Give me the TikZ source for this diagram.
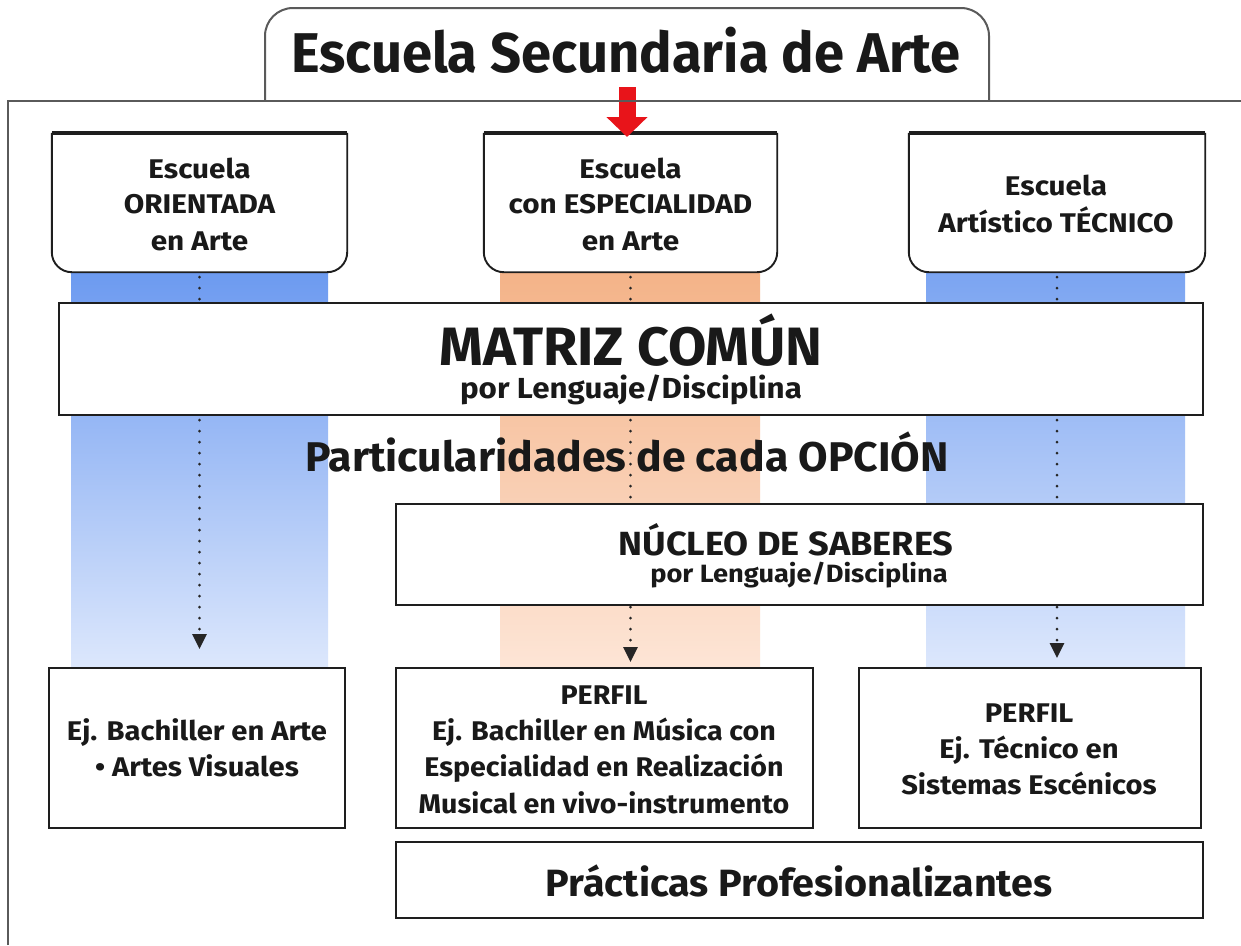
\documentclass[tikz,border=0pt]{standalone}
\usepackage{fontspec}
\setmainfont{Fira Sans}
\usetikzlibrary{arrows.meta}
\newcommand\setfs[2]{\fontsize{#1}{#1}\selectfont\bfseries\addfontfeature{FakeStretch=#2}}
\definecolor{colblue}{HTML}{6C9AF0}
\definecolor{colbluel}{HTML}{DCE7FC}
\definecolor{colorange}{HTML}{F4B388}
\definecolor{colorangel}{HTML}{FDE5D6}
\definecolor{linegray}{HTML}{5A5A5A}
\definecolor{boxline}{HTML}{1E1E1E}
\definecolor{arrowred}{HTML}{E8141A}
\tikzset{
  frameline/.style={draw=linegray, line width=2pt},
  plainbox/.style={draw=boxline, fill=white, line width=2.4pt, inner sep=0pt},
  topbox/.style={draw=boxline, fill=white, line width=1.9pt, rounded corners=20pt},
  topedge/.style={draw=boxline, line width=4pt},
  emptybox/.style={inner sep=0pt},
  ln/.style={anchor=base, inner sep=0pt, text=black!90},
  dotarrow/.style={draw=black!85, line width=3pt, dash pattern=on 0pt off 11pt, line cap=round,
    -{Triangle[length=15pt,width=14pt]}},
  redarrow/.style={draw=arrowred, line width=17pt, -{Triangle[length=20pt,width=40pt]}},
}
\begin{document}
\begin{tikzpicture}[x=1pt,y=-1pt]
\useasboundingbox[fill=white] (0,0) rectangle (1241,945);

% coloured columns
\shade[top color=colblue, bottom color=colbluel] (71,272) rectangle (328,666);
\shade[top color=colorange, bottom color=colorangel] (500,272) rectangle (760,668);
\shade[top color=colblue!90, bottom color=colbluel] (926,272) rectangle (1185,666);

% top boxes
\node[emptybox, minimum width=295pt, minimum height=139pt] (oriBox) at (199.5,202.5) {};
\node[emptybox, minimum width=293pt, minimum height=139pt] (espBox) at (630.5,202.5) {};
\node[emptybox, minimum width=296pt, minimum height=139pt] (tecBox) at (1057,202.5) {};
\foreach \b in {oriBox,espBox,tecBox}{
  \path[topbox] (\b.north west) -- (\b.south west) -- (\b.south east) -- (\b.north east);
  \draw[topedge] (\b.north west) -- (\b.north east);
}

% dotted arrows
\coordinate (endL) at (199.5,649);
\coordinate (endM) at (630.5,662);
\coordinate (endR) at (1057,658);
\draw[dotarrow] (oriBox.south) ++(0,5) -- (endL);
\draw[dotarrow] (espBox.south) ++(0,5) -- (endM);
\draw[dotarrow] (tecBox.south) ++(0,5) -- (endR);

% boxes
\node[plainbox, minimum width=1144pt, minimum height=112pt] (matriz) at (631,359) {};
\node[plainbox, minimum width=807pt, minimum height=101pt] (nucleo) at (799.5,554.5) {};
\node[plainbox, minimum width=296pt, minimum height=160pt] (perfL) at (197,748) {};
\node[plainbox, minimum width=417pt, minimum height=160pt] (perfM) at (604.5,748) {};
\node[plainbox, minimum width=342pt, minimum height=160pt] (perfR) at (1030,748) {};
\node[plainbox, minimum width=807pt, minimum height=76pt] (practicas) at (799.5,880) {};

% red arrow and frame
\coordinate (redS) at (627,87);
\coordinate (redE) at (627,137);
\draw[redarrow] (redS) -- (redE);
\draw[frameline] (8,945) -- (8,101) -- (1241,101);
\draw[frameline, rounded corners=28pt] (265,101) -- (265,8) -- (989,8) -- (989,101);

% texts
\node[ln, font=\setfs{56}{0.97}] (title) at (626,72) {Escuela Secundaria de Arte};

\node[ln, font=\setfs{27}{1.1}] (o1) at (199.5,178) {Escuela};
\node[ln, font=\setfs{27}{1.1}] (o2) at (199.5,213) {ORIENTADA};
\node[ln, font=\setfs{27}{1.1}] (o3) at (199.5,250) {en Arte};
\node[ln, font=\setfs{27}{1.1}] (e1) at (630.5,178) {Escuela};
\node[ln, font=\setfs{27}{1.1}] (e2) at (630.5,213) {con ESPECIALIDAD};
\node[ln, font=\setfs{27}{1.1}] (e3) at (630.5,250) {en Arte};
\node[ln, font=\setfs{27}{1.1}] (t1) at (1056,195) {Escuela};
\node[ln, font=\setfs{27}{1.1}] (t2) at (1056,232) {Artístico TÉCNICO};

\node[ln, font=\setfs{54}{1.03}] (m1) at (631,365) {MATRIZ COMÚN};
\node[ln, font=\setfs{29}{1.08}] (m2) at (631,398) {por Lenguaje/Disciplina};

\node[ln, font=\setfs{41.5}{1.03}] (part) at (627,471) {Particularidades de cada OPCIÓN};

\node[ln, font=\setfs{33.5}{1.08}] (n1) at (786,555) {NÚCLEO DE SABERES};
\node[ln, font=\setfs{25}{1.09}] (n2) at (799,582) {por Lenguaje/Disciplina};

\node[ln, font=\setfs{27}{1.08}] (l1) at (197,740) {Ej. Bachiller en Arte};
\node[ln, font=\setfs{27}{1.08}] (l2) at (197,776) {• Artes Visuales};

\node[ln, font=\setfs{27}{1.06}] (c1) at (604,704) {PERFIL};
\node[ln, font=\setfs{27}{1.06}] (c2) at (604,740) {Ej. Bachiller en Música con};
\node[ln, font=\setfs{27}{1.06}] (c3) at (604,776) {Especialidad en Realización};
\node[ln, font=\setfs{27}{1.06}] (c4) at (604,813) {Musical en vivo-instrumento};

\node[ln, font=\setfs{27}{1.08}] (r1) at (1029,722) {PERFIL};
\node[ln, font=\setfs{27}{1.08}] (r2) at (1029,758) {Ej. Técnico en};
\node[ln, font=\setfs{27}{1.08}] (r3) at (1029,794) {Sistemas Escénicos};

\node[ln, font=\setfs{38}{1.04}] (pp) at (799,896) {Prácticas Profesionalizantes};
\end{tikzpicture}
\end{document}
